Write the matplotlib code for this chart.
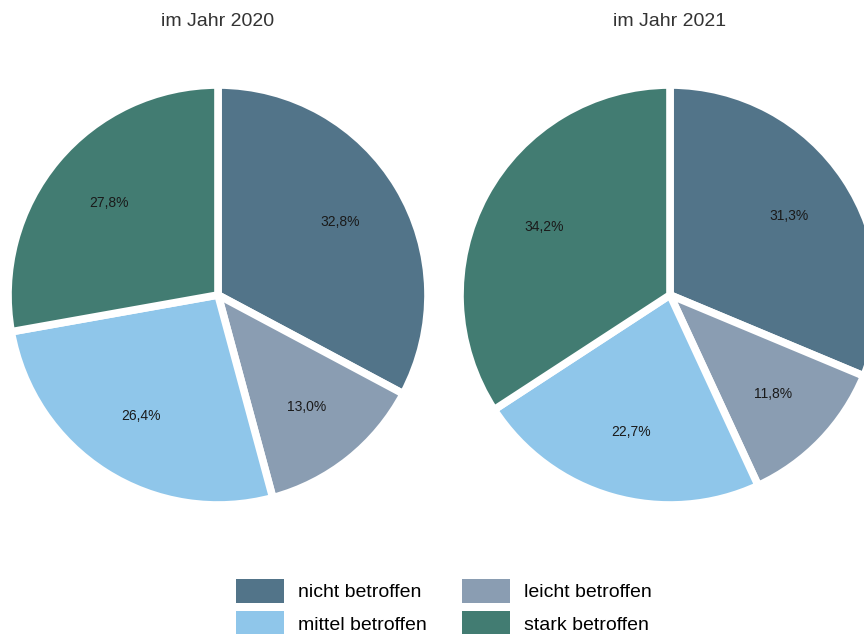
import matplotlib.pyplot as plt
from matplotlib.patches import Patch

plt.rcParams['font.family'] = ['Liberation Sans', 'DejaVu Sans']

categories = ['nicht betroffen', 'leicht betroffen', 'mittel betroffen', 'stark betroffen']
colors = ['#527489', '#8a9db2', '#8fc6ea', '#427c72']
years = ['im Jahr 2020', 'im Jahr 2021']
values_2020 = [32.8, 13.0, 26.4, 27.8]
values_2021 = [31.3, 11.8, 22.7, 34.2]

W, H = 864, 634
fig = plt.figure(figsize=(W / 100, H / 100), dpi=100)


def pct(p):
    return ('%.1f%%' % p).replace('.', ',')


def draw_pie(cx, cy, r, vals, title):
    # cx, cy, r in pixels (y from top)
    ax = fig.add_axes([(cx - r) / W, (H - cy - r) / H, 2 * r / W, 2 * r / H])
    ax.pie(vals, colors=colors, startangle=90, counterclock=False,
           autopct=pct, pctdistance=0.68, radius=1.0,
           wedgeprops=dict(edgecolor='white', linewidth=5.5),
           textprops=dict(fontsize=10, color='#1a1a1a'))
    ax.set_xlim(-1, 1)
    ax.set_ylim(-1, 1)
    ax.set_aspect('equal')
    ax.axis('off')
    fig.text(cx / W, 1 - 22 / H, title, ha='center', va='center',
             fontsize=14, color='#333333')
    return ax


draw_pie(218, 295, 210, values_2020, years[0])
draw_pie(670, 295, 210, values_2021, years[1])

handles = [Patch(facecolor=c, edgecolor='none') for c in colors]
order = [0, 2, 1, 3]
fig.legend([handles[i] for i in order], [categories[i] for i in order],
           ncol=2, loc='center', bbox_to_anchor=(0.514, 1 - 607 / H),
           frameon=False, fontsize=14, handlelength=2.47, handleheight=1.52,
           handletextpad=0.72, columnspacing=1.8, labelspacing=0.46,
           borderpad=0)

fig.savefig('out.png', dpi=100)
